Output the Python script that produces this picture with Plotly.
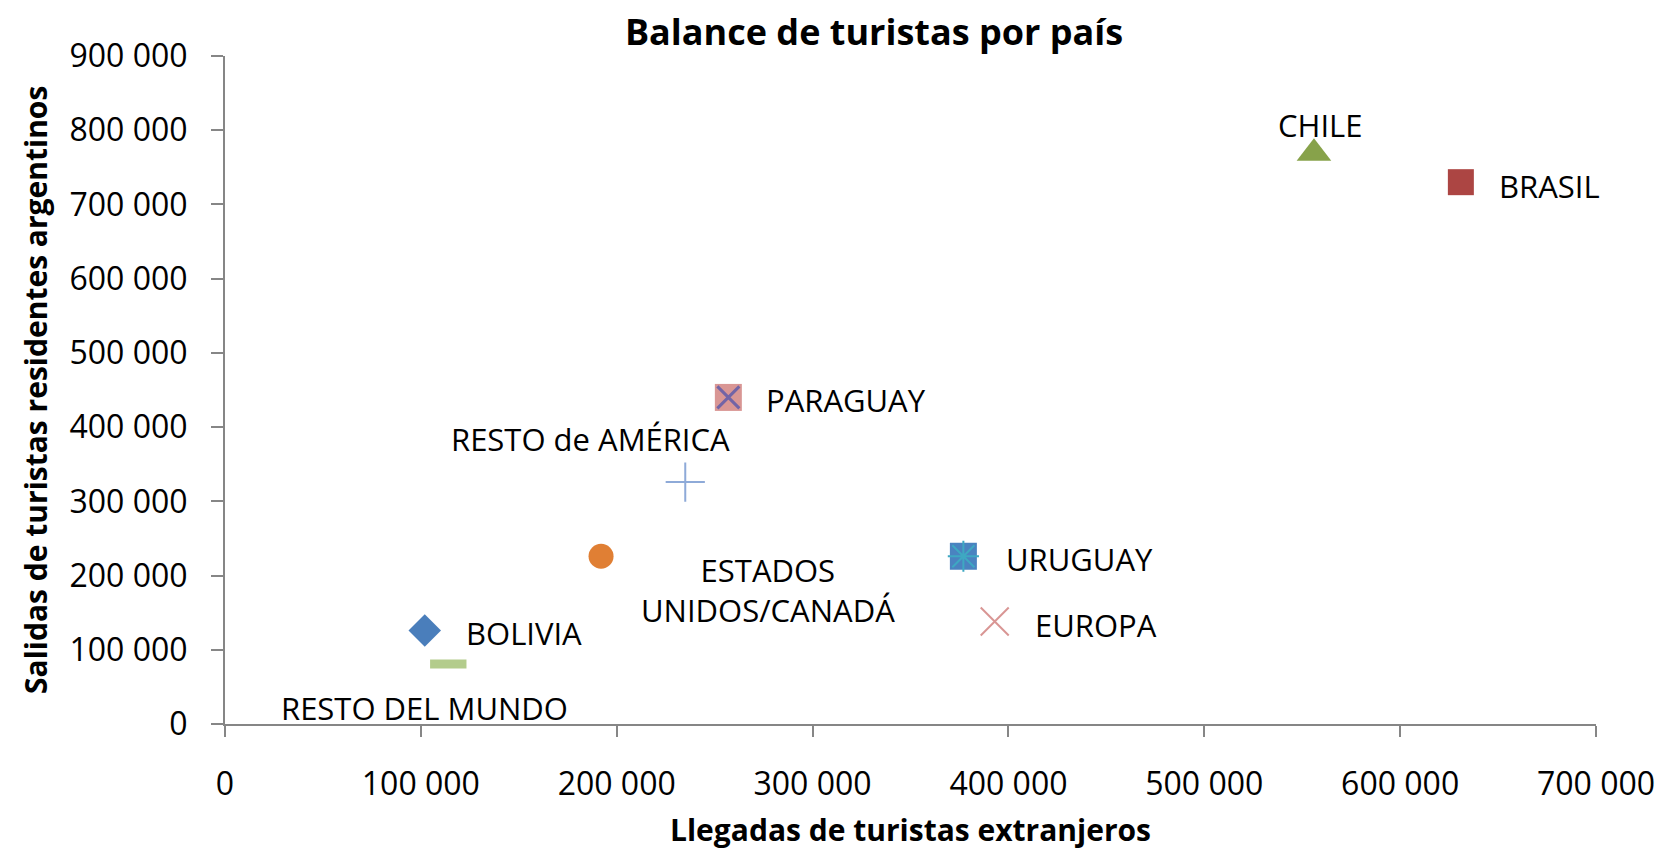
import plotly.graph_objects as go

# ---- data ----
countries = ["BOLIVIA", "RESTO DEL MUNDO", "ESTADOS<br>UNIDOS/CANADÁ", "RESTO de AMÉRICA",
             "PARAGUAY", "URUGUAY", "EUROPA", "CHILE", "BRASIL"]
llegadas = [102000, 114000, 192000, 235000, 257000, 377000, 393000, 556000, 631000]
salidas = [126000, 81000, 226000, 326000, 440000, 226000, 138000, 769000, 730000]

x_ticks = [0, 100000, 200000, 300000, 400000, 500000, 600000, 700000]
x_tick_text = ["0", "100 000", "200 000", "300 000", "400 000", "500 000", "600 000", "700 000"]
y_ticks = [0, 100000, 200000, 300000, 400000, 500000, 600000, 700000, 800000, 900000]
y_tick_text = ["0", "100 000", "200 000", "300 000", "400 000", "500 000", "600 000",
               "700 000", "800 000", "900 000"]

FONT = "Open Sans"

# marker styles per point (one or two layered markers)
styles = [
    [dict(symbol="diamond", size=25, color="#4a7ebb")],
    [dict(symbol="line-ew-open", size=26, color="#b3cc8c", line=dict(width=9, color="#b3cc8c"))],
    [dict(symbol="circle", size=25, color="#e07f34")],
    [dict(symbol="cross-thin-open", size=28, color="#8eaad8", line=dict(width=2, color="#8eaad8"))],
    [dict(symbol="square", size=27, color="#d99694"),
     dict(symbol="x-thin-open", size=22, color="#7264a6", line=dict(width=3, color="#7264a6"))],
    [dict(symbol="square", size=27, color="#4a83c0"),
     dict(symbol="asterisk-open", size=26, color="#3ea8c2", line=dict(width=2, color="#3ea8c2"))],
    [dict(symbol="x-thin-open", size=28, color="#d99694", line=dict(width=2, color="#d99694"))],
    [dict(symbol="triangle-up", size=30, color="#87a24a")],
    [dict(symbol="square", size=26, color="#ac4543")],
]

# label offsets (pixels) relative to each point
offsets = [
    (39, -3, "left"),
    (-24, -44, "center"),
    (167, -34, "center"),
    (-95, 43, "center"),
    (36, -3, "left"),
    (41, -3, "left"),
    (38, -3, "left"),
    (6, 28, "center"),
    (36, -4, "left"),
]

fig = go.Figure()
for i in range(len(countries)):
    for st in styles[i]:
        fig.add_trace(go.Scatter(
            x=[llegadas[i]], y=[salidas[i]], mode="markers",
            marker=st, showlegend=False, hoverinfo="skip"))

annotations = []
for i, name in enumerate(countries):
    dx, dy, anc = offsets[i]
    annotations.append(dict(
        x=llegadas[i], y=salidas[i], xref="x", yref="y", text=name,
        showarrow=False, xanchor=anc, yanchor="middle", align="center",
        xshift=dx, yshift=dy, font=dict(family=FONT, size=31, color="black")))

annotations.append(dict(
    text="<b>Llegadas de turistas extranjeros</b>", xref="paper", yref="paper",
    x=0.5, y=0, yshift=-105, showarrow=False, xanchor="center", yanchor="middle",
    font=dict(family=FONT, size=30, color="black")))
annotations.append(dict(
    text="<b>Salidas de turistas residentes argentinos</b>", xref="paper", yref="paper",
    x=0, y=0.5, xshift=-190, showarrow=False, textangle=-90, xanchor="center",
    yanchor="middle", font=dict(family=FONT, size=30, color="black")))

fig.update_layout(
    width=1659, height=848,
    margin=dict(l=225, r=63, t=56, b=124),
    paper_bgcolor="white", plot_bgcolor="white",
    title=dict(text="<b>Balance de turistas por país</b>", x=874 / 1659, xref="container",
               xanchor="center", y=1 - 32 / 848, yref="container", yanchor="middle",
               font=dict(family=FONT, size=36, color="black")),
    annotations=annotations,
    xaxis=dict(range=[0, 700000], tickvals=x_ticks, ticktext=x_tick_text, automargin=False,
               showgrid=False, zeroline=False, showline=True, linecolor="#868686",
               linewidth=2, ticks="outside", ticklen=11, tickwidth=2, tickcolor="#868686",
               ticklabelstandoff=20, ticklabeloverflow="allow",
               tickfont=dict(family=FONT, size=32, color="black")),
    yaxis=dict(range=[0, 900000], tickvals=y_ticks, ticktext=y_tick_text, automargin=False,
               showgrid=False, zeroline=False, showline=True, linecolor="#868686",
               linewidth=2, ticks="outside", ticklen=12, tickwidth=2, tickcolor="#868686",
               ticklabelstandoff=17, ticklabeloverflow="allow",
               tickfont=dict(family=FONT, size=32, color="black")),
)

fig.write_html(
    "out.html",
    config={"displayModeBar": False},
    post_script="document.body.style.margin='0';document.body.style.overflow='hidden';",
)
